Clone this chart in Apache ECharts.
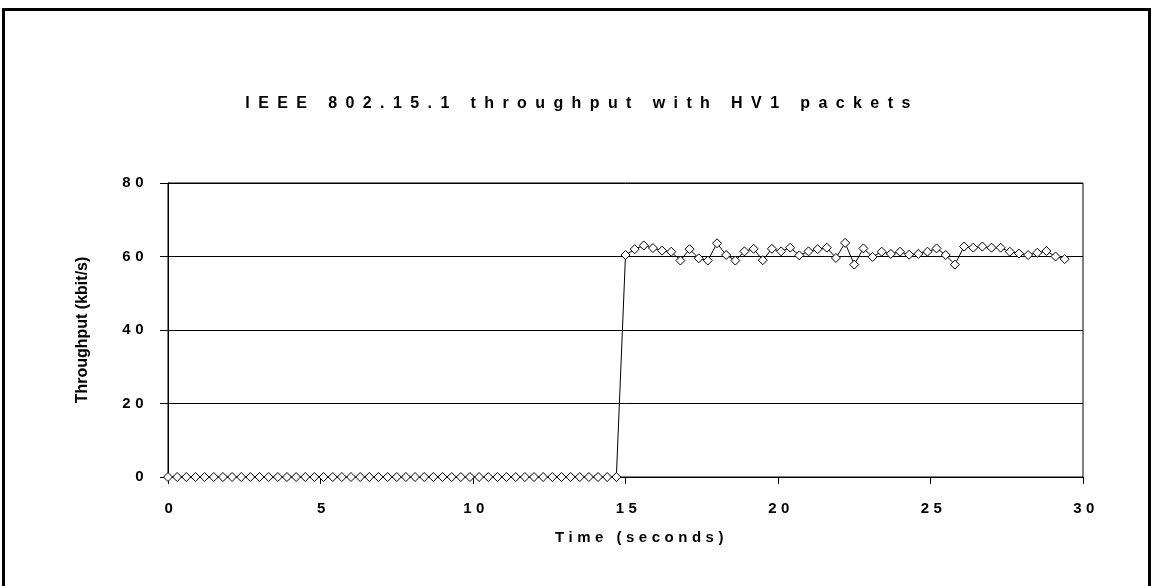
<!DOCTYPE html>
<html>
<head>
<meta charset="utf-8">
<script src="https://cdn.jsdelivr.net/npm/echarts@6/dist/echarts.min.js"></script>
<style>
html,body{margin:0;padding:0;background:#fff;}
#chart{width:1153px;height:586px;}
</style>
</head>
<body>
<div id="chart"></div>
<script>
// ---- data ----
const titleText = 'IEEE 802.15.1 throughput with HV1 packets';
const xAxisName = 'Time (seconds)';
const yAxisName = 'Throughput (kbit/s)';
const times = [
  0.0, 0.3, 0.6, 0.9, 1.2, 1.5, 1.8, 2.1, 2.4, 2.7,
  3.0, 3.3, 3.6, 3.9, 4.2, 4.5, 4.8, 5.1, 5.4, 5.7,
  6.0, 6.3, 6.6, 6.9, 7.2, 7.5, 7.8, 8.1, 8.4, 8.7,
  9.0, 9.3, 9.6, 9.9, 10.2, 10.5, 10.8, 11.1, 11.4, 11.7,
  12.0, 12.3, 12.6, 12.9, 13.2, 13.5, 13.8, 14.1, 14.4, 14.7,
  15.0, 15.3, 15.6, 15.9, 16.2, 16.5, 16.8, 17.1, 17.4, 17.7,
  18.0, 18.3, 18.6, 18.9, 19.2, 19.5, 19.8, 20.1, 20.4, 20.7,
  21.0, 21.3, 21.6, 21.9, 22.2, 22.5, 22.8, 23.1, 23.4, 23.7,
  24.0, 24.3, 24.6, 24.9, 25.2, 25.5, 25.8, 26.1, 26.4, 26.7,
  27.0, 27.3, 27.6, 27.9, 28.2, 28.5, 28.8, 29.1, 29.4
];
const throughput = [
  0, 0, 0, 0, 0, 0, 0, 0, 0, 0,
  0, 0, 0, 0, 0, 0, 0, 0, 0, 0,
  0, 0, 0, 0, 0, 0, 0, 0, 0, 0,
  0, 0, 0, 0, 0, 0, 0, 0, 0, 0,
  0, 0, 0, 0, 0, 0, 0, 0, 0, 0,
  60.4, 62.0, 63.0, 62.3, 61.6, 61.3, 58.9, 62.0, 59.5, 58.9,
  63.6, 60.4, 58.9, 61.4, 62.1, 59.0, 62.1, 61.4, 62.4, 60.3,
  61.4, 62.0, 62.4, 59.6, 63.7, 57.8, 62.2, 59.9, 61.3, 60.7,
  61.3, 60.5, 60.7, 61.3, 62.2, 60.4, 57.8, 62.7, 62.4, 62.7,
  62.4, 62.4, 61.3, 60.8, 60.4, 61.0, 61.5, 60.0, 59.3
];
const xTicks = [0, 5, 10, 15, 20, 25, 30];
const yTicks = [0, 20, 40, 60, 80];

// spaced lettering (as in the original) for texts drawn with the "Liberation Sans" family
(function () {
  const proto = CanvasRenderingContext2D.prototype;
  const orig = proto.fillText;
  proto.fillText = function (t, x, y, w) {
    const f = this.font || '';
    let ls = '0px';
    if (f.indexOf('Liberation') >= 0) {
      if (f.indexOf('16px') >= 0) ls = '8.4px';
      else ls = '4.5px';
    }
    if ('letterSpacing' in this) this.letterSpacing = ls;
    return w === undefined ? orig.call(this, t, x, y) : orig.call(this, t, x, y, w);
  };
})();

const chart = echarts.init(document.getElementById('chart'), null, {renderer: 'canvas'});
const seriesData = times.map((t, i) => [t, throughput[i]]);

const option = {
  animation: false,
  backgroundColor: '#fff',
  title: {
    text: titleText,
    left: 577,
    top: 91,
    textAlign: 'center',
    textStyle: {fontFamily: 'Liberation Sans', fontWeight: 'bold', fontSize: 16, color: '#000'}
  },
  graphic: [{
    type: 'rect',
    shape: {x: 3.5, y: 9.5, width: 1146, height: 620},
    style: {fill: 'none', stroke: '#000', lineWidth: 3},
    silent: true
  }],
  grid: {
    left: 168, right: 70, top: 183, bottom: 109,
    show: true, borderColor: '#000', borderWidth: 1, backgroundColor: 'transparent'
  },
  xAxis: {
    type: 'value',
    min: xTicks[0], max: xTicks[xTicks.length - 1], interval: 5,
    name: xAxisName,
    nameLocation: 'middle',
    nameGap: 53,
    nameTextStyle: {fontFamily: 'Liberation Sans', fontWeight: 'bold', fontSize: 15, color: '#000', padding: [0, 0, 0, 32]},
    axisLine: {show: true, onZero: false, lineStyle: {color: '#000', width: 1}},
    axisTick: {show: true, length: 7, inside: false, lineStyle: {color: '#000'}},
    axisLabel: {margin: 24, fontFamily: 'Liberation Sans', fontWeight: 'bold', fontSize: 15, color: '#000', padding: [0, 0, 0, 6]},
    splitLine: {show: false}
  },
  yAxis: {
    type: 'value',
    min: yTicks[0], max: yTicks[yTicks.length - 1], interval: 20,
    name: yAxisName,
    nameLocation: 'middle',
    nameGap: 77,
    nameRotate: 90,
    nameTextStyle: {fontFamily: 'Arial', fontWeight: 'bold', fontSize: 16, color: '#000'},
    axisLine: {show: true, lineStyle: {color: '#000', width: 1}},
    axisTick: {show: true, length: 8, inside: false, lineStyle: {color: '#000'}},
    axisLabel: {margin: 20, fontFamily: 'Liberation Sans', fontWeight: 'bold', fontSize: 15, color: '#000'},
    splitLine: {show: true, lineStyle: {color: '#000', width: 1, type: 'solid'}}
  },
  series: [{
    type: 'line',
    data: seriesData,
    symbol: 'diamond',
    symbolSize: [9, 9],
    showSymbol: true,
    lineStyle: {color: '#000', width: 1},
    itemStyle: {color: '#fff', borderColor: '#000', borderWidth: 1},
    emphasis: {disabled: true}
  }]
};
chart.setOption(option);
</script>
</body>
</html>
